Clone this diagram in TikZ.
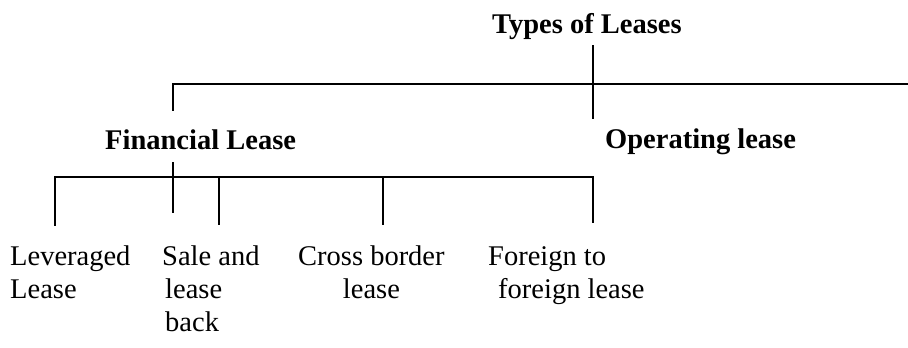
\documentclass[tikz,border=0pt]{standalone}
\usepackage{fontspec}
\setmainfont{Liberation Serif}
\begin{document}
\begin{tikzpicture}[x=1pt,y=-1pt,
  lbl/.style={inner sep=0pt,anchor=base west,font=\fontsize{28.5}{33}\selectfont},
  head/.style={lbl,font=\fontsize{28.5}{33}\selectfont\bfseries},
  tree/.style={line width=1.6pt,line cap=rect}]
\useasboundingbox (0,0) rectangle (908,348);
% texts
\node[head] (types) at (492,34) {Types of Leases};
\node[head] (fin) at (105,149) {Financial Lease};
\node[head] (oper) at (605,148) {Operating lease};
\node[lbl] (lev) at (10,265) {\begin{tabular}[t]{@{}l@{}}Leveraged\\Lease\end{tabular}};
\node[lbl] (sale) at (162,265) {\begin{tabular}[t]{@{}l@{}}Sale and\\\hspace*{3pt}lease\\\hspace*{3pt}back\end{tabular}};
\node[lbl] (cross) at (298,265) {\begin{tabular}[t]{@{}c@{}}Cross border\\lease\end{tabular}};
\node[lbl] (foreign) at (488,265) {\begin{tabular}[t]{@{}l@{}}Foreign to\\\hspace*{10pt}foreign lease\end{tabular}};
% junction coordinates
\coordinate (t1) at (593,46);
\coordinate (t2) at (593,118);
\coordinate (hl) at (173,84);
\coordinate (hr) at (908,84);
\coordinate (fintop) at (173,110);
\coordinate (f1) at (173,163);
\coordinate (f2) at (173,212);
\coordinate (bl) at (55,177);
\coordinate (br) at (593,177);
\coordinate (levtop) at (55,225);
\coordinate (s0) at (219,177);
\coordinate (saletop) at (219,224);
\coordinate (c0) at (383,177);
\coordinate (crosstop) at (383,224);
\coordinate (foreigntop) at (593,222);
% connectors
\draw[tree] (t1) -- (t2);
\draw[tree,line width=1.3pt] (fintop) -- (hl) -- (hr);
\draw[tree] (f1) -- (f2);
\draw[tree,line width=1.3pt] (levtop) -- (bl) -- (br) -- (foreigntop);
\draw[tree] (s0) -- (saletop);
\draw[tree] (c0) -- (crosstop);
\end{tikzpicture}
\end{document}
